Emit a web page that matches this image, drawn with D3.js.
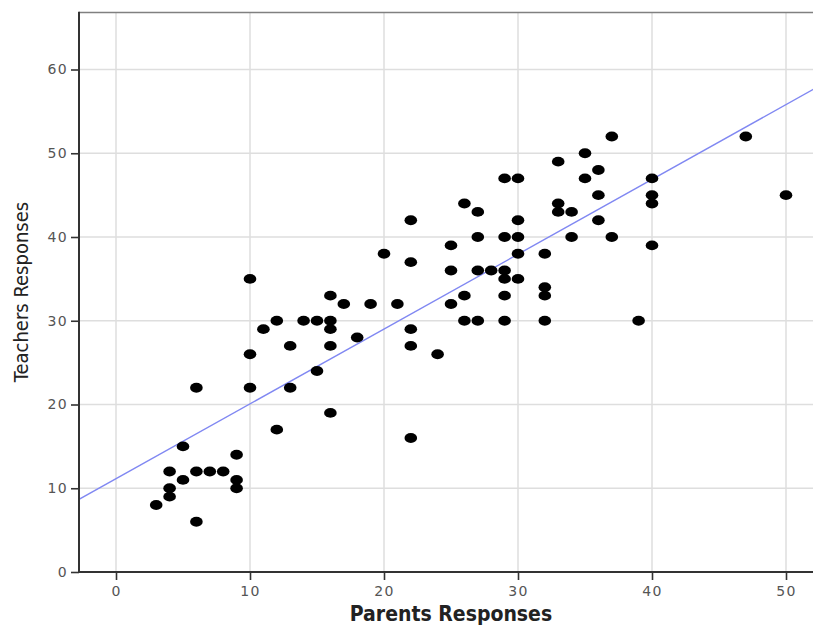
<!DOCTYPE html>
<html>
<head>
<meta charset="utf-8">
<script src="https://cdn.jsdelivr.net/npm/d3@7/dist/d3.min.js"></script>
<style>
  html, body { margin: 0; padding: 0; background: #fff; }
  svg { display: block; }
</style>
</head>
<body>
<svg id="chart" width="813" height="628"></svg>
<script>
// ---- data ----
const parents  = [3,4,4,4,5,5,6,6,6,7,8,9,9,9,10,10,10,11,12,12,13,13,14,15,15,16,16,16,16,16,17,18,19,20,21,22,22,22,22,22,24,25,25,25,26,26,26,27,27,27,27,28,29,29,29,29,29,29,30,30,30,30,30,32,32,32,32,33,33,33,34,34,35,35,36,36,36,37,37,39,40,40,40,40,47,50];
const teachers = [8,12,10,9,15,11,22,12,6,12,12,14,11,10,35,26,22,29,30,17,27,22,30,30,24,33,30,29,27,19,32,28,32,38,32,42,37,29,27,16,26,39,36,32,44,33,30,43,40,36,30,36,47,40,36,35,33,30,47,42,40,38,35,38,34,33,30,49,44,43,43,40,50,47,48,45,42,52,40,30,47,45,44,39,52,45];
const xTicks = [0,10,20,30,40,50];
const yTicks = [0,10,20,30,40,50,60];
const fitLine = { intercept: 11.14, slope: 0.8935 };
const xTitle = "Parents Responses";
const yTitle = "Teachers Responses";

// ---- layout ----
const svg = d3.select("#chart");
const plotLeft = 79, plotRight = 830, plotTop = 12.5, plotBottom = 572;

const x = d3.scaleLinear().domain([0, 50]).range([116, 786]);
const y = d3.scaleLinear().domain([0, 60]).range([572, 69.5]);

// grid
const grid = svg.append("g");
grid.selectAll("line.v").data(xTicks).join("line")
  .attr("x1", d => x(d)).attr("x2", d => x(d))
  .attr("y1", plotTop).attr("y2", plotBottom)
  .attr("stroke", "#dedede").attr("stroke-width", 1.5);
grid.selectAll("line.h").data(yTicks.filter(d => d > 0)).join("line")
  .attr("x1", plotLeft).attr("x2", plotRight)
  .attr("y1", d => y(d)).attr("y2", d => y(d))
  .attr("stroke", "#dedede").attr("stroke-width", 1.5);

// top border
svg.append("line")
  .attr("x1", plotLeft).attr("x2", plotRight)
  .attr("y1", plotTop).attr("y2", plotTop)
  .attr("stroke", "#808080").attr("stroke-width", 1.6);

// clip for plot contents
svg.append("clipPath").attr("id", "clip")
  .append("rect").attr("x", plotLeft).attr("y", plotTop)
  .attr("width", plotRight - plotLeft).attr("height", plotBottom - plotTop);

// regression line
const x0 = x.invert(plotLeft), x1 = x.invert(plotRight);
svg.append("line")
  .attr("clip-path", "url(#clip)")
  .attr("x1", x(x0)).attr("y1", y(fitLine.intercept + fitLine.slope * x0))
  .attr("x2", x(x1)).attr("y2", y(fitLine.intercept + fitLine.slope * x1))
  .attr("stroke", "#8088f2").attr("stroke-width", 1.4);

// points
svg.append("g").selectAll("ellipse").data(parents.map((p, i) => [p, teachers[i]])).join("ellipse")
  .attr("cx", d => x(d[0])).attr("cy", d => y(d[1]))
  .attr("rx", 6.3).attr("ry", 4.9)
  .attr("fill", "#000");

// axes
const tickFont = "'DejaVu Sans', sans-serif";
const xAxis = svg.append("g").attr("transform", `translate(0,${plotBottom})`)
  .call(d3.axisBottom(x).tickValues(xTicks).tickSize(8).tickPadding(6).tickSizeOuter(0));
const yAxis = svg.append("g").attr("transform", `translate(${plotLeft},0)`)
  .call(d3.axisLeft(y).tickValues(yTicks).tickSize(8).tickPadding(3).tickSizeOuter(0));

[xAxis, yAxis].forEach(g => {
  g.select(".domain").remove();
  g.selectAll(".tick line").attr("stroke", "#333").attr("stroke-width", 1.6);
  g.selectAll(".tick text")
    .attr("fill", "#555")
    .style("font-family", tickFont)
    .style("font-size", "14px")
    .style("letter-spacing", "1.3px");
});

// axis lines
svg.append("line")
  .attr("x1", plotLeft).attr("x2", plotLeft)
  .attr("y1", plotTop - 0.8).attr("y2", plotBottom + 1)
  .attr("stroke", "#333").attr("stroke-width", 2);
svg.append("line")
  .attr("x1", plotLeft).attr("x2", plotRight)
  .attr("y1", plotBottom).attr("y2", plotBottom)
  .attr("stroke", "#333").attr("stroke-width", 2);

// titles
svg.append("text")
  .attr("x", 451).attr("y", 621)
  .attr("text-anchor", "middle")
  .style("font-family", "'DejaVu Sans Condensed', 'DejaVu Sans', sans-serif")
  .style("font-weight", "bold")
  .style("font-size", "21px")
  .attr("fill", "#222")
  .text(xTitle);

svg.append("text")
  .attr("transform", "translate(28,292) rotate(-90)")
  .attr("text-anchor", "middle")
  .style("font-family", "'DejaVu Sans Condensed', 'DejaVu Sans', sans-serif")
  .style("font-size", "20px")
  .style("font-weight", "500")
  .attr("fill", "#222")
  .text(yTitle);
</script>
</body>
</html>
